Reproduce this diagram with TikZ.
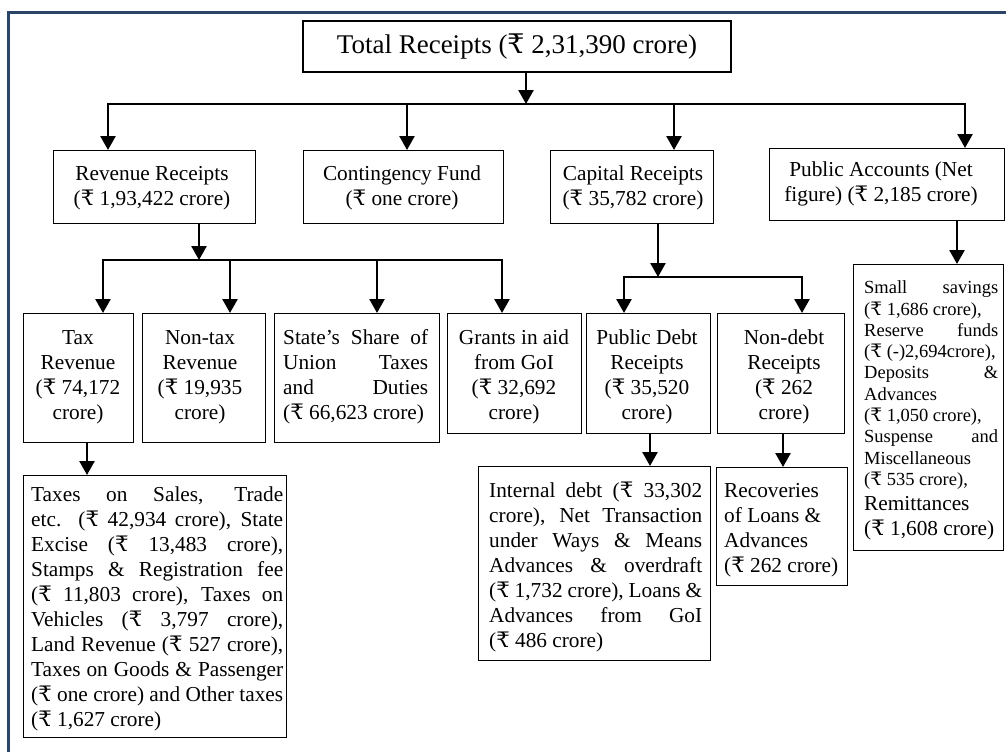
\documentclass[tikz,border=0pt]{standalone}
\usepackage{fontspec}
\setmainfont{Liberation Serif}
\newfontfamily\rupeefont{DejaVu Serif}
\usetikzlibrary{arrows.meta}
\definecolor{framec}{HTML}{2B4468}
\newcommand\Rs{\iffontchar\font"20B9\relax\char"20B9\relax\else{\rupeefont\char"20B9}\fi}
\newcommand\jln[1]{\hbox to\hsize{\strut#1}}
\newcommand\lln[1]{\hbox to\hsize{\strut#1\hfil}}
\newcommand\cln[1]{\hbox to\hsize{\hfil\strut#1\hfil}}
\newcommand\blk[2]{\vtop{\hsize=#1pt\relax #2}}
\tikzset{
  box/.style={draw=black, line width=1.3pt, inner sep=0pt, anchor=north west},
  txt/.style={inner sep=0pt, font=\fontsize{21.3}{25}\selectfont},
  txts/.style={inner sep=0pt, font=\fontsize{18.5}{21.3}\selectfont},
  conn/.style={line width=2.6pt, line join=miter},
  arr/.style={conn, -{Triangle[length=14pt,width=15pt]}},
  framel/.style={draw=framec, line width=3pt}
}
\begin{document}
\begin{tikzpicture}[x=1pt,y=-1pt]
\useasboundingbox (0,0) rectangle (1006,752);
% outer frame
\draw[framel] (8,752) -- (8,13) -- (1006,13);

% top
\node[draw=black, line width=2.4pt, inner sep=0pt, minimum width=428pt, minimum height=51pt,
      font=\fontsize{27}{30}\selectfont] (total) at (517,46.5) {Total Receipts (\Rs{} 2,31,390 crore)};

% level 2
\node[box, minimum width=202pt, minimum height=73pt] (rev) at (53,150) {};
\node[txt, anchor=north] (revT) at (152,162.5) {\blk{200}{\cln{Revenue Receipts}\cln{(\Rs{} 1,93,422 crore)}}};
\node[box, minimum width=200pt, minimum height=73pt] (cont) at (303,150) {};
\node[txt, anchor=north] (contT) at (402,162.5) {\blk{196}{\cln{Contingency Fund}\cln{(\Rs{} one crore)}}};
\node[box, minimum width=163pt, minimum height=73pt] (cap) at (550,150) {};
\node[txt, anchor=north] (capT) at (633,162.5) {\blk{160}{\cln{Capital Receipts}\cln{(\Rs{} 35,782 crore)}}};
\node[box, minimum width=235pt, minimum height=72pt] (pa) at (769,148) {};
\node[txt, anchor=north] (paT) at (881,158.5) {\blk{230}{\cln{Public Accounts (Net}\cln{figure) (\Rs{} 2,185 crore)}}};

% level 3
\node[box, minimum width=110pt, minimum height=129pt] (tax) at (23,313) {};
\node[txt, anchor=north] (taxT) at (78,326.5) {\blk{106}{\cln{Tax}\cln{Revenue}\cln{(\Rs{} 74,172}\cln{crore)}}};
\node[box, minimum width=123pt, minimum height=129pt] (ntax) at (142,313) {};
\node[txt, anchor=north] (ntaxT) at (200,326.5) {\blk{118}{\cln{Non-tax}\cln{Revenue}\cln{(\Rs{} 19,935}\cln{crore)}}};
\node[box, minimum width=165pt, minimum height=129pt] (share) at (274,313) {};
\node[txt, anchor=north west] (shareT) at (283,326.5) {\blk{145}{\jln{State’s Share of}\jln{Union Taxes}\jln{and Duties}\lln{(\Rs{} 66,623 crore)}}};
\node[box, minimum width=134pt, minimum height=120pt] (grant) at (447,313) {};
\node[txt, anchor=north] (grantT) at (514,326.5) {\blk{130}{\cln{Grants in aid}\cln{from GoI}\cln{(\Rs{} 32,692}\cln{crore)}}};
\node[box, minimum width=124pt, minimum height=120pt] (pdebt) at (586,313) {};
\node[txt, anchor=north] (pdebtT) at (647,327) {\blk{120}{\cln{Public Debt}\cln{Receipts}\cln{(\Rs{} 35,520}\cln{crore)}}};
\node[box, minimum width=127pt, minimum height=120pt] (ndebt) at (717,313) {};
\node[txt, anchor=north] (ndebtT) at (784,327) {\blk{120}{\cln{Non-debt}\cln{Receipts}\cln{(\Rs{} 262}\cln{crore)}}};
\node[box, minimum width=150pt, minimum height=286pt] (padet) at (853,264) {};
\node[txts, anchor=north west] (padetT) at (864,278.6) {\blk{134}{%
  \jln{Small savings}
  \lln{(\Rs{} 1,686 crore),}
  \jln{Reserve funds}
  \lln{(\Rs{} (-)2,694crore),}
  \jln{Deposits \&}
  \lln{Advances}
  \lln{(\Rs{} 1,050 crore),}
  \jln{Suspense and}
  \lln{Miscellaneous}
  \lln{(\Rs{} 535 crore),}
  {\fontsize{21.3}{25}\selectfont\lln{Remittances}\lln{(\Rs{} 1,608 crore)}}}};

% level 4
\node[box, minimum width=263pt, minimum height=262pt] (taxes) at (23,475) {};
\node[txt, anchor=north west] (taxesT) at (31,483.5) {\blk{252}{%
  \jln{Taxes on Sales, Trade}
  \jln{etc. (\Rs{} 42,934 crore), State}
  \jln{Excise (\Rs{} 13,483 crore),}
  \jln{Stamps \& Registration fee}
  \jln{(\Rs{} 11,803 crore), Taxes on}
  \jln{Vehicles (\Rs{} 3,797 crore),}
  \jln{Land Revenue (\Rs{} 527 crore),}
  \jln{Taxes on Goods \& Passenger}
  \jln{(\Rs{} one crore) and Other taxes}
  \lln{(\Rs{} 1,627 crore)}}};
\node[box, minimum width=232pt, minimum height=194pt] (intd) at (478,466) {};
\node[txt, anchor=north west] (intdT) at (489,479.5) {\blk{213}{%
  \jln{Internal debt (\Rs{} 33,302}
  \jln{crore), Net Transaction}
  \jln{under Ways \& Means}
  \jln{Advances \& overdraft}
  \jln{(\Rs{} 1,732 crore), Loans \&}
  \jln{Advances from GoI}
  \lln{(\Rs{} 486 crore)}}};
\node[box, minimum width=131pt, minimum height=118pt] (recov) at (716,467) {};
\node[txt, anchor=north west] (recovT) at (724,479.5) {\blk{120}{%
  \lln{Recoveries}\lln{of Loans \&}\lln{Advances}\lln{(\Rs{} 262 crore)}}};

% connectors: top bus
\coordinate (b1) at (526,104);
\coordinate (b1L) at (108,104);
\coordinate (b1R) at (965,104);
\draw[arr] (total.south -| b1) -- (b1);
\draw[arr] (b1R) -- (b1L) -- (b1L |- rev.north);
\draw[arr] (b1L) -- (b1R) -- (b1R |- pa.north);
\draw[arr] (407,104) -- (407,104 |- cont.north);
\draw[arr] (674,104) -- (674,104 |- cap.north);

% revenue bus
\coordinate (b2) at (199,260);
\coordinate (b2L) at (103,260);
\coordinate (b2R) at (502,260);
\draw[arr] (rev.south -| b2) -- (b2);
\draw[arr] (b2R) -- (b2L) -- (b2L |- tax.north);
\draw[arr] (b2L) -- (b2R) -- (b2R |- grant.north);
\draw[arr] (230,260) -- (230,260 |- ntax.north);
\draw[arr] (377,260) -- (377,260 |- share.north);

% capital bus
\coordinate (b3) at (658,277);
\coordinate (b3L) at (624,277);
\coordinate (b3R) at (802,277);
\draw[arr] (cap.south -| b3) -- (b3);
\draw[arr] (b3R) -- (b3L) -- (b3L |- pdebt.north);
\draw[arr] (b3L) -- (b3R) -- (b3R |- ndebt.north);

% direct arrows
\coordinate (c1) at (957,0);
\draw[arr] (pa.south -| c1) -- (padet.north -| c1);
\coordinate (c2) at (87,0);
\draw[arr] (tax.south -| c2) -- (taxes.north -| c2);
\coordinate (c3) at (650,0);
\draw[arr] (pdebt.south -| c3) -- (intd.north -| c3);
\coordinate (c4) at (783,0);
\draw[arr] (ndebt.south -| c4) -- (recov.north -| c4);
\end{tikzpicture}
\end{document}
